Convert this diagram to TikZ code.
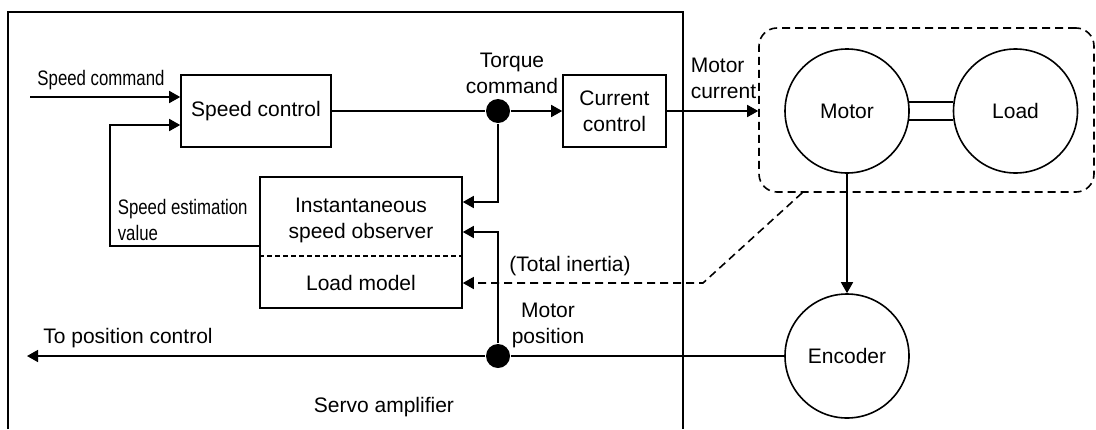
\documentclass[tikz,border=0pt]{standalone}
\usepackage{fontspec}
\setmainfont{Liberation Sans}
\newfontfamily\condsans[FakeStretch=0.8]{Liberation Sans}
\usetikzlibrary{arrows.meta,positioning,calc}

\begin{document}
\begin{tikzpicture}[x=0.5pt, y=-0.5pt, line width=0.8pt, >={Triangle[length=5.5pt,width=6pt]},
	every node/.style={font=\fontsize{10.5}{13}\selectfont},
	block/.style={draw, rectangle, align=center, inner sep=0pt},
	wheel/.style={draw, circle, minimum size=62pt, inner sep=0pt},
	junction/.style={fill, circle, minimum size=12pt, inner sep=0pt},
	lbl/.style={align=center, inner sep=0pt},
	cond/.style={font=\condsans\fontsize{10.5}{13}\selectfont},
	longdash/.style={dash pattern=on 4pt off 2.5pt}]
			
			\useasboundingbox (0,0) rectangle (1096,429);
			
			% Servo amplifier
			\draw (8,429) -- (8,12) -- (683,12) -- (683,429);
			\node[lbl] (servo) at (384,407) {Servo amplifier};
			
			% Control blocks
			\node[block, minimum width=75pt, minimum height=36pt] (speedctl) at (256,111) {Speed control};
			\node[junction] (torque) at (498,111) {};
			\node[block, minimum width=51.5pt, minimum height=36pt] (curctl) at (614.5,111) {Current\\control};
			
			% Observer
			\node[block, minimum width=101pt, minimum height=65.5pt] (observer) at (361,242.5) {};
			\node[lbl] (obstext) at (361,220) {Instantaneous\\speed observer};
			\node[lbl] (loadmodel) at (361,283) {Load model};
			\draw[line width=0.6pt, dash pattern=on 2.5pt off 1.5pt] ([yshift=-6.75pt]observer.west) -- ([yshift=-6.75pt]observer.east);
			
			% Motor and load
			\node[draw, longdash, rounded corners=9pt, minimum width=167.5pt, minimum height=82pt] (plant) at (926.5,110) {};
			\node[wheel] (motor) at (847,111) {Motor};
			\node[wheel] (load) at (1015.5,111) {Load};
			\node[wheel] (encoder) at (847,356) {Encoder};
			\node[junction] (pos) at (498,356) {};
			
			% Labels
			\node[lbl, cond] (lblcmd) at (101,80) {Speed command};
			\node[lbl, cond, align=left, anchor=west] (lblest) at (117,220) {Speed estimation\\value};
			\node[lbl] (lbltorque) at (512,73) {Torque\\command};
			\node[lbl, align=left, anchor=west] (lblcur) at (690,78) {Motor\\current};
			\node[lbl] (lblinertia) at (570,266) {(Total inertia)};
			\node[lbl] (lblpos) at (548,325) {Motor\\position};
			\node[lbl] (lbltopos) at (128,338) {To position control};
			
			% Connections
			\coordinate (cmdin) at (30,97);
			\draw[->] (cmdin) -- (cmdin -| speedctl.west);
			\coordinate (fbcorner) at (110,246);
			\draw[->] (fbcorner -| observer.west) -- (fbcorner) |- ([yshift=-7pt]speedctl.west);
			
			\draw (speedctl) -- (torque);
			\draw[->] (torque) -- (curctl);
			\draw[->] (torque) |- ([yshift=20.25pt]observer.east);
			\draw[->] (curctl) -- (curctl.east -| plant.west);
			
			\draw (motor.8) -- (load.172);
			\draw (motor.-8) -- (load.188);
			\draw[->] (motor) -- (encoder);
			
			\coordinate (topos) at (27,356);
			\draw (encoder) -- (pos);
			\draw[->] (pos) -- (topos);
			\draw[->] (pos) |- ([yshift=5.25pt]observer.east);
			
			\coordinate (inertiabend) at (703,283);
			\draw[->, longdash] ([xshift=22pt]plant.south west) -- (inertiabend) -- (inertiabend -| observer.east);
			
		\end{tikzpicture}
\end{document}
